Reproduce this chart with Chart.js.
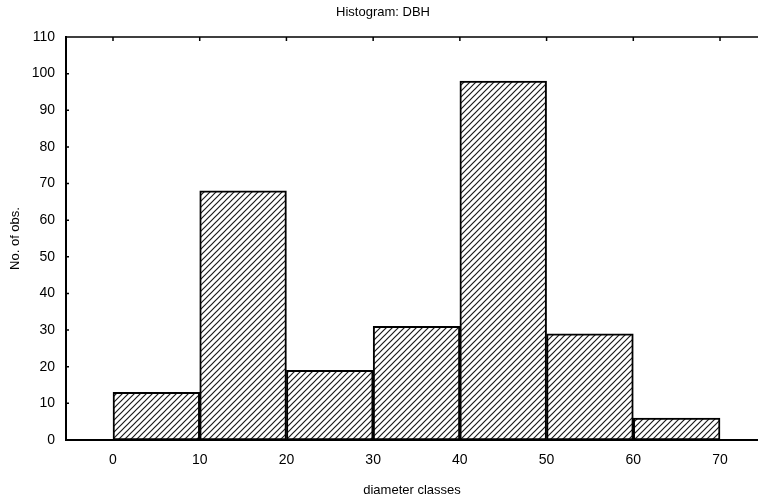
<!DOCTYPE html>
<html lang="en">
<head>
  <meta charset="UTF-8" />
  <title>Histogram: DBH</title>
  <script src="https://cdn.jsdelivr.net/npm/chart.js"></script>
  <style>
    html, body { margin: 0; padding: 0; background: #fff; overflow: hidden; }
    #chart { display: block; }
  </style>
</head>
<body>
  <canvas id="chart" width="758" height="498"></canvas>

  <script>
    // histogram data: class mid-points and counts
    const classMids = [5, 15, 25, 35, 45, 55, 65];
    const counts = [13, 68, 19, 31, 98, 29, 6];
    const xTicks = [0, 10, 20, 30, 40, 50, 60, 70];
    const yTicks = [0, 10, 20, 30, 40, 50, 60, 70, 80, 90, 100, 110];

    // diagonal hatch fill
    function hatch() {
      const c = document.createElement("canvas");
      c.width = 6; c.height = 6;
      const g = c.getContext("2d");
      g.fillStyle = "#fff";
      g.fillRect(0, 0, 6, 6);
      g.strokeStyle = "#1a1a1a";
      g.lineWidth = 1.2;
      g.beginPath();
      g.moveTo(-1, 7); g.lineTo(7, -1);
      g.moveTo(-1, 1); g.lineTo(1, -1);
      g.moveTo(5, 7); g.lineTo(7, 5);
      g.stroke();
      return g.createPattern(c, "repeat");
    }

    // top frame line + small inward ticks
    const frame = {
      id: "frame",
      afterDraw(chart) {
        const { ctx, chartArea: a, scales } = chart;
        ctx.save();
        ctx.strokeStyle = "#000";
        ctx.lineWidth = 1.5;
        ctx.beginPath();
        ctx.moveTo(a.left, a.top);
        ctx.lineTo(a.right, a.top);
        xTicks.forEach(v => {
          const x = scales.x.getPixelForValue(v);
          ctx.moveTo(x, a.top);
          ctx.lineTo(x, a.top + 4);
        });
        yTicks.forEach(v => {
          const y = scales.y.getPixelForValue(v);
          ctx.moveTo(a.left, y);
          ctx.lineTo(a.left + 3, y);
        });
        ctx.stroke();
        ctx.restore();
      }
    };

    Chart.defaults.font.family = "'Liberation Sans', Arial, sans-serif";
    Chart.defaults.color = "#000";

    new Chart(document.getElementById("chart"), {
      type: "bar",
      data: {
        datasets: [{
          label: "No. of obs.",
          data: classMids.map((m, i) => ({ x: m, y: counts[i] })),
          backgroundColor: hatch(),
          borderColor: "#000",
          borderWidth: 2,
          borderSkipped: false,
          barPercentage: 1,
          categoryPercentage: 1
        }]
      },
      options: {
        responsive: false,
        animation: false,
        devicePixelRatio: 1,
        layout: { padding: { left: 8, right: 0, top: 0, bottom: 0 } },
        plugins: {
          legend: { display: false },
          tooltip: { enabled: false },
          title: {
            display: true,
            text: "Histogram: DBH",
            font: { size: 13, weight: "normal" },
            padding: { top: 5, bottom: 16.4 }
          }
        },
        scales: {
          x: {
            type: "linear",
            offset: false,
            min: -5.42,
            max: 74.38,
            afterBuildTicks: s => { s.ticks = xTicks.map(v => ({ value: v })); },
            afterFit: s => { s.height = 58; },
            grid: { display: false },
            border: { color: "#000", width: 2 },
            ticks: { font: { size: 14 }, padding: 4, maxRotation: 0 },
            title: {
              display: true,
              text: "diameter classes",
              font: { size: 13 },
              padding: { top: 8, bottom: 0 }
            }
          },
          y: {
            min: 0,
            max: 110,
            afterBuildTicks: s => { s.ticks = yTicks.map(v => ({ value: v })); },
            afterFit: s => { s.width = 58; },
            grid: { display: false },
            border: { color: "#000", width: 2 },
            ticks: { font: { size: 14 }, padding: 3 },
            title: {
              display: true,
              text: "No. of obs.",
              font: { size: 13 },
              padding: { top: 0, bottom: 4 }
            }
          }
        }
      },
      plugins: [frame]
    });
  </script>
</body>
</html>
